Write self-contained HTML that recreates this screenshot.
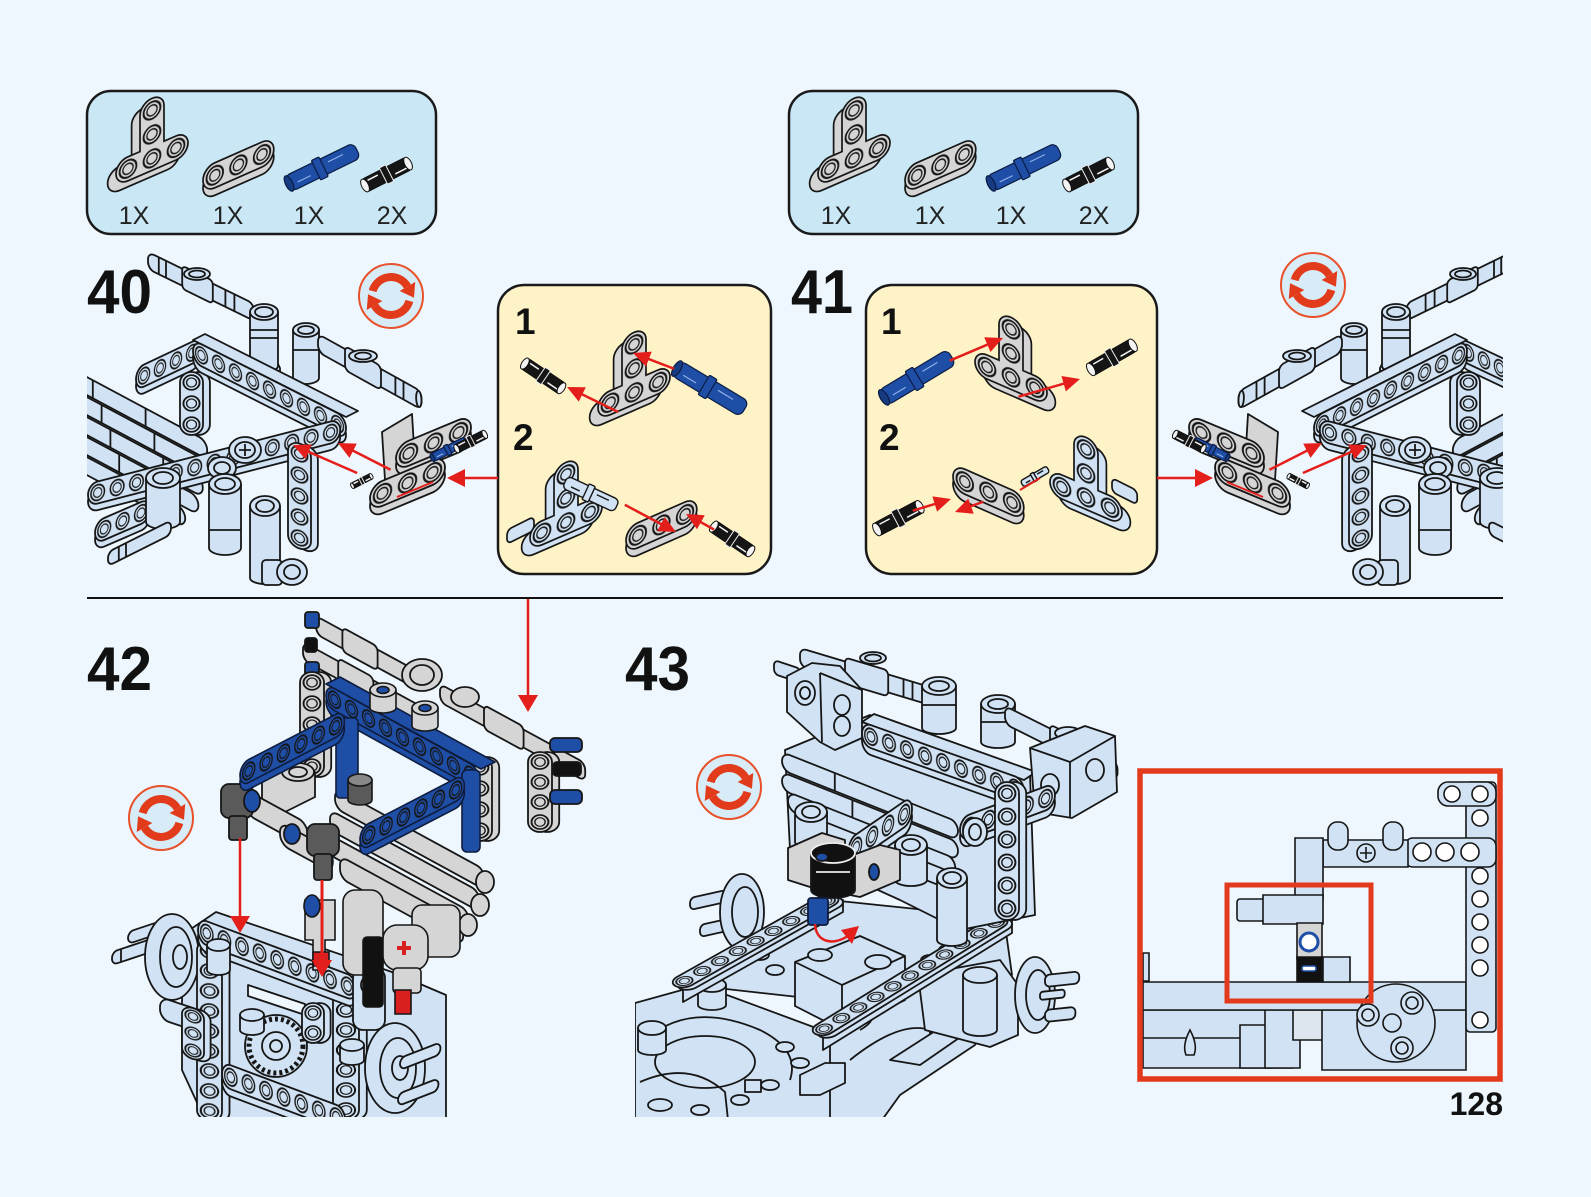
<!DOCTYPE html>
<html><head><meta charset="utf-8"><title>Page 128</title>
<style>
html,body{margin:0;padding:0;background:#eef7fd}
svg{display:block}
svg *{vector-effect:non-scaling-stroke}
.n{font-family:"Liberation Sans",Arial,sans-serif;font-weight:bold;fill:#111}
.q{font-family:"Liberation Sans",Arial,sans-serif;fill:#222;font-size:25px}
</style></head><body>
<svg xmlns="http://www.w3.org/2000/svg" width="1591" height="1197" viewBox="0 0 1591 1197">
<defs>
 <pattern id="ph" width="20" height="20" patternUnits="userSpaceOnUse">
  <circle cx="10" cy="10" r="7" fill="none" stroke="#161616" stroke-width="1.6"/>
  <circle cx="10" cy="10" r="4.3" fill="none" stroke="#161616" stroke-width="1.1"/>
 </pattern>
 <clipPath id="cL"><rect x="87" y="240" width="405" height="356"/></clipPath>
 <clipPath id="cR"><rect x="1160" y="240" width="343" height="356"/></clipPath>
 <clipPath id="c42"><rect x="87" y="600" width="533" height="517"/></clipPath>
 <clipPath id="c43"><rect x="635" y="600" width="495" height="517"/></clipPath>

 <g id="B2"><rect y="6" width="40" height="20" rx="10"/><rect width="40" height="20" rx="10"/><rect width="40" height="20" rx="10" fill="url(#ph)" stroke="none"/></g>
 <g id="B3"><rect y="6" width="60" height="20" rx="10"/><rect width="60" height="20" rx="10"/><rect width="60" height="20" rx="10" fill="url(#ph)" stroke="none"/></g>
 <g id="B4"><rect y="6" width="80" height="20" rx="10"/><rect width="80" height="20" rx="10"/><rect width="80" height="20" rx="10" fill="url(#ph)" stroke="none"/></g>
 <g id="B5"><rect y="6" width="100" height="20" rx="10"/><rect width="100" height="20" rx="10"/><rect width="100" height="20" rx="10" fill="url(#ph)" stroke="none"/></g>
 <g id="B6"><rect y="6" width="120" height="20" rx="10"/><rect width="120" height="20" rx="10"/><rect width="120" height="20" rx="10" fill="url(#ph)" stroke="none"/></g>
 <g id="B7"><rect y="6" width="140" height="20" rx="10"/><rect width="140" height="20" rx="10"/><rect width="140" height="20" rx="10" fill="url(#ph)" stroke="none"/></g>
 <g id="B9"><rect y="6" width="180" height="20" rx="10"/><rect width="180" height="20" rx="10"/><rect width="180" height="20" rx="10" fill="url(#ph)" stroke="none"/></g>
 <g id="B11"><rect y="6" width="220" height="20" rx="10"/><rect width="220" height="20" rx="10"/><rect width="220" height="20" rx="10" fill="url(#ph)" stroke="none"/></g>
 <g id="B13"><rect y="6" width="260" height="20" rx="10"/><rect width="260" height="20" rx="10"/><rect width="260" height="20" rx="10" fill="url(#ph)" stroke="none"/></g>

 <g id="T" stroke="#161616" stroke-width="1.7">
  <path transform="translate(-7,5)" d="M20,10 A10,10 0 0 1 40,10 V40 H50 A10,10 0 0 1 50,60 H10 A10,10 0 0 1 10,40 H20 Z"/>
  <path d="M20,10 A10,10 0 0 1 40,10 V40 H50 A10,10 0 0 1 50,60 H10 A10,10 0 0 1 10,40 H20 Z"/>
  <path d="M20,10 A10,10 0 0 1 40,10 V40 H50 A10,10 0 0 1 50,60 H10 A10,10 0 0 1 10,40 H20 Z" fill="url(#ph)" stroke="none"/>
 </g>
 <g id="PK" stroke="#111" stroke-width="1">
  <rect x="0" y="-6" width="44" height="12" rx="3" fill="#151515"/>
  <rect x="19" y="-8" width="6" height="16" rx="1" fill="#151515" stroke="#eee"/>
  <path d="M5,-3 H15 M29,3 H40" stroke="#f4f4f4" stroke-width="1.5"/>
  <ellipse cx="1" cy="0" rx="3" ry="6" fill="#f4f4f4"/>
  <ellipse cx="43" cy="0" rx="3" ry="6" fill="#f4f4f4"/>
 </g>
 <g id="PB" stroke="#0b1c44" stroke-width="1.2">
  <rect x="0" y="-7" width="64" height="14" rx="5" fill="#1f4ea6"/>
  <rect x="26" y="-9" width="7" height="18" rx="1" fill="#1f4ea6"/>
  <path d="M38,-2 H52 M8,2 H20" stroke="#8fb0e8"/>
  <ellipse cx="1" cy="0" rx="3" ry="7" fill="#163b80"/>
 </g>
 <g id="PL" stroke="#161616" stroke-width="1.4">
  <rect x="0" y="-7" width="60" height="14" rx="5" fill="#d0e2f3"/>
  <rect x="24" y="-9" width="7" height="18" rx="1" fill="#d0e2f3"/>
  <path d="M36,-2 H50 M8,2 H18"/>
 </g>
 <g id="ROT">
  <circle r="32" fill="#d7ecf7" stroke="#e8512b" stroke-width="2"/>
  <path d="M-18.35,-4.92 A19,19 0 0 1 16.45,-9.5" fill="none" stroke="#e23b1c" stroke-width="8"/>
  <polygon points="24.25,-14 8.65,-5 22.95,1.76" fill="#e23b1c"/>
  <path d="M18.35,4.92 A19,19 0 0 1 -16.45,9.5" fill="none" stroke="#e23b1c" stroke-width="8"/>
  <polygon points="-24.25,14 -8.65,5 -22.95,-1.76" fill="#e23b1c"/>
 </g>

 <!-- STEP 40 ASSEMBLY (reused mirrored for step 41) -->
 <g id="a40" fill="#d0e2f3" stroke="#161616" stroke-width="1.8" stroke-linejoin="round">
  <g transform="matrix(.88,.47,0,1,40,352)"><rect width="190" height="18" rx="9"/><line x1="60" y1="0" x2="60" y2="18"/><line x1="120" y1="0" x2="120" y2="18"/></g>
  <g transform="matrix(.88,.47,0,1,40,372)"><rect width="190" height="18" rx="9"/><line x1="70" y1="0" x2="70" y2="18"/><line x1="130" y1="0" x2="130" y2="18"/></g>
  <g transform="matrix(.88,.47,0,1,40,392)"><rect width="185" height="18" rx="9"/><line x1="80" y1="0" x2="80" y2="18"/><line x1="140" y1="0" x2="140" y2="18"/></g>
  <g transform="matrix(.88,.47,0,1,40,412)"><rect width="180" height="18" rx="9"/><line x1="90" y1="0" x2="90" y2="18"/></g>
  <g transform="matrix(.88,.47,0,1,40,432)"><rect width="165" height="18" rx="9"/><line x1="100" y1="0" x2="100" y2="18"/></g>
  <use href="#B4" transform="matrix(-.8,.38,0,1.1,200,338)"/>
  <use href="#B3" transform="matrix(0,1.05,1.15,0,180,372)"/>
  <g transform="matrix(.9,.44,0,1,148,252)"><rect width="118" height="17" rx="7"/><rect x="38" y="-3" width="34" height="23" rx="4"/><line x1="12" y1="0" x2="12" y2="17"/><line x1="20" y1="0" x2="20" y2="17"/><line x1="86" y1="0" x2="86" y2="17"/><line x1="96" y1="0" x2="96" y2="17"/></g>
  <ellipse cx="197" cy="274" rx="13" ry="6"/><ellipse cx="197" cy="274" rx="8" ry="3.5"/>
  <path d="M248,368 l4,-8 h24 l4,8 v14 h-32 z"/>
  <path d="M250,312 V366 A14,6 0 0 0 278,366 V312 Z"/>
  <line x1="250" y1="330" x2="278" y2="330"/><line x1="250" y1="338" x2="278" y2="338"/>
  <ellipse cx="264" cy="312" rx="14" ry="8"/><ellipse cx="264" cy="312" rx="9" ry="5"/>
  <path d="M293,330 V378 A13,6 0 0 0 319,378 V330 Z"/>
  <line x1="293" y1="350" x2="319" y2="350"/>
  <ellipse cx="306" cy="330" rx="13" ry="7"/><ellipse cx="306" cy="330" rx="8" ry="4"/>
  <g transform="matrix(.9,.5,0,1,318,334)"><rect width="115" height="18" rx="7"/><rect x="30" y="-3" width="40" height="24" rx="5"/><line x1="86" y1="0" x2="86" y2="18"/><line x1="95" y1="0" x2="95" y2="18"/><ellipse cx="112" cy="9" rx="3" ry="8"/></g>
  <ellipse cx="363" cy="356" rx="14" ry="6"/><ellipse cx="363" cy="356" rx="8" ry="3.5"/>
  <polygon points="193,340 346,417 358,411 205,334"/>
  <use href="#B9" transform="matrix(.85,.43,0,1.1,193,340)"/>
  <use href="#B13" transform="matrix(.97,-.25,0,1.1,88,484)"/>
  <ellipse cx="245" cy="450" rx="16" ry="13"/><ellipse cx="245" cy="450" rx="10" ry="8"/><path d="M239,450 h12 M245,444 v12"/>
  <ellipse cx="222" cy="468" rx="14" ry="11"/><ellipse cx="222" cy="468" rx="8" ry="6"/>
  <use href="#B3" transform="matrix(.92,-.4,0,1.1,95,522)"/>
  <path d="M146,478 V522 A17,7 0 0 0 180,522 V478 Z"/><ellipse cx="163" cy="478" rx="17" ry="10"/><ellipse cx="163" cy="478" rx="10" ry="6"/>
  <path d="M209,484 V548 A16,7 0 0 0 241,548 V484 Z"/><line x1="209" y1="530" x2="241" y2="530"/><ellipse cx="225" cy="484" rx="16" ry="10"/><ellipse cx="225" cy="484" rx="10" ry="6"/>
  <path d="M250,506 V578 A15,6 0 0 0 280,578 V506 Z"/><ellipse cx="265" cy="506" rx="15" ry="10"/><ellipse cx="265" cy="506" rx="9" ry="6"/>
  <g transform="matrix(.9,-.45,0,1,108,552)"><rect width="70" height="14" rx="6"/><line x1="12" y1="0" x2="12" y2="14"/><line x1="20" y1="0" x2="20" y2="14"/></g>
  <rect x="262" y="560" width="20" height="25" rx="4"/>
  <ellipse cx="292" cy="572" rx="15" ry="13"/><ellipse cx="292" cy="572" rx="8" ry="7"/>
  <use href="#B5" transform="matrix(0,1.05,1.15,.35,288,440)"/>
  <g fill="#d5d5d5">
   <polygon points="382,432 412,414 416,480 386,496"/>
   <use href="#B3" transform="matrix(1.25,-.52,0,1.25,396,446)"/>
   <use href="#B3" transform="matrix(1.25,-.52,0,1.25,370,486)"/>
  </g>
  <use href="#PB" transform="translate(432,458) rotate(-27) scale(.6)"/>
  <use href="#PK" transform="translate(456,449) rotate(-27) scale(.75)"/>
  <use href="#PK" transform="translate(352,486) rotate(-27) scale(.5)"/>
  <g fill="#e41f1b" stroke="#e41f1b">
   <g transform="translate(293,445) rotate(203.6)"><line x1="-70" y1="0" x2="-14" y2="0" stroke-width="2.5"/><polygon points="0,0 -17,-8 -17,8" stroke="none"/></g>
   <g transform="translate(338,443) rotate(207)"><line x1="-59" y1="0" x2="-14" y2="0" stroke-width="2.5"/><polygon points="0,0 -17,-8 -17,8" stroke="none"/></g>
   <line x1="397" y1="497" x2="433" y2="482" stroke-width="2"/>
  </g>
 </g>
</defs>

<rect x="0" y="0" width="1591" height="1197" fill="#eef7fd"/>

<!-- parts boxes -->
<rect x="87" y="91" width="349" height="143" rx="24" fill="#c9e7f4" stroke="#1a1a1a" stroke-width="2.5"/>
<rect x="789" y="91" width="349" height="143" rx="24" fill="#c9e7f4" stroke="#1a1a1a" stroke-width="2.5"/>
<g id="parts1">
 <use href="#T" fill="#d5d5d5" transform="matrix(1.2,-.52,0,1.2,116,114)"/>
 <use href="#B3" fill="#d5d5d5" stroke="#161616" stroke-width="1.7" transform="matrix(1.18,-.52,0,1.25,203,168)"/>
 <use href="#PB" transform="translate(288,184) rotate(-26) scale(1.2)"/>
 <use href="#PK" transform="translate(364,186) rotate(-27) scale(1.15)"/>
</g>
<use href="#parts1" transform="translate(702,0)"/>
<text class="q" x="134" y="224" text-anchor="middle">1X</text>
<text class="q" x="228" y="224" text-anchor="middle">1X</text>
<text class="q" x="309" y="224" text-anchor="middle">1X</text>
<text class="q" x="392" y="224" text-anchor="middle">2X</text>
<text class="q" x="836" y="224" text-anchor="middle">1X</text>
<text class="q" x="930" y="224" text-anchor="middle">1X</text>
<text class="q" x="1011" y="224" text-anchor="middle">1X</text>
<text class="q" x="1094" y="224" text-anchor="middle">2X</text>

<!-- step 40 / 41 assemblies -->
<g clip-path="url(#cL)"><use href="#a40"/></g>
<g clip-path="url(#cR)"><use href="#a40" transform="matrix(-1,0,0,1,1660,0)"/></g>

<!-- yellow callouts -->
<rect x="498" y="285" width="273" height="289" rx="26" fill="#fef3c7" stroke="#1a1a1a" stroke-width="2.5"/>
<rect x="866" y="285" width="291" height="289" rx="26" fill="#fef3c7" stroke="#1a1a1a" stroke-width="2.5"/>

<!-- box 1 contents -->
<g stroke="#161616" stroke-width="1.7">
 <use href="#PK" transform="translate(524,363) rotate(34) scale(1.05)"/>
 <use href="#T" fill="#d5d5d5" transform="matrix(1.2,-.52,0,1.2,598,348)"/>
 <use href="#PB" transform="translate(676,368) rotate(31) scale(1.25)"/>
 <g transform="matrix(.9,-.45,0,1,507,530)"><rect width="30" height="14" rx="5" fill="#d0e2f3"/></g>
 <use href="#T" fill="#d0e2f3" transform="matrix(1.2,-.52,0,1.2,530,478)"/>
 <use href="#PL" transform="translate(565,482) rotate(25) scale(.95)"/>
 <use href="#B3" fill="#d5d5d5" transform="matrix(1.18,-.52,0,1.25,626,528)"/>
 <use href="#PK" transform="translate(713,526) rotate(34) scale(1.05)"/>
</g>
<!-- box 2 contents -->
<g stroke="#161616" stroke-width="1.7">
 <use href="#PB" transform="translate(883,398) rotate(-31) scale(1.25)"/>
 <use href="#T" fill="#d5d5d5" transform="matrix(-1.2,-.52,0,1.2,1047,333)"/>
 <use href="#PK" transform="translate(1090,370) rotate(-30) scale(1.15)"/>
 <use href="#PK" transform="translate(876,530) rotate(-28) scale(1.15)"/>
 <use href="#B3" fill="#d5d5d5" transform="matrix(1.18,.52,0,1.25,953,464)"/>
 <g transform="matrix(.9,.45,0,1,1112,478)"><rect width="28" height="14" rx="5" fill="#d0e2f3"/></g>
 <use href="#T" fill="#d0e2f3" transform="matrix(-1.2,-.52,0,1.2,1122,453)"/>
 <use href="#PL" transform="translate(1022,484) rotate(-30) scale(.5)"/>
</g>
<g fill="#e41f1b" stroke="#e41f1b">
 <g transform="translate(633,353) rotate(201)"><line x1="-44" y1="0" x2="-12" y2="0" stroke-width="2.5"/><polygon points="0,0 -17,-8 -17,8" stroke="none"/></g>
 <g transform="translate(567,387) rotate(206)"><line x1="-57" y1="0" x2="-12" y2="0" stroke-width="2.5"/><polygon points="0,0 -17,-8 -17,8" stroke="none"/></g>
 <g transform="translate(686,514) rotate(209)"><line x1="-32" y1="0" x2="-12" y2="0" stroke-width="2.5"/><polygon points="0,0 -17,-8 -17,8" stroke="none"/></g>
 <g transform="translate(676,532) rotate(28)"><line x1="-58" y1="0" x2="-12" y2="0" stroke-width="2.5"/><polygon points="0,0 -17,-8 -17,8" stroke="none"/></g>
 <g transform="translate(1003,338) rotate(-23)"><line x1="-58" y1="0" x2="-12" y2="0" stroke-width="2.5"/><polygon points="0,0 -17,-8 -17,8" stroke="none"/></g>
 <g transform="translate(1080,379) rotate(-16)"><line x1="-64" y1="0" x2="-12" y2="0" stroke-width="2.5"/><polygon points="0,0 -17,-8 -17,8" stroke="none"/></g>
 <g transform="translate(951,499) rotate(-17)"><line x1="-40" y1="0" x2="-12" y2="0" stroke-width="2.5"/><polygon points="0,0 -17,-8 -17,8" stroke="none"/></g>
 <g transform="translate(955,512) rotate(160)"><line x1="-30" y1="0" x2="-12" y2="0" stroke-width="2.5"/><polygon points="0,0 -17,-8 -17,8" stroke="none"/></g>
 <line x1="1040" y1="478" x2="1020" y2="490" stroke-width="2"/>
 <g transform="translate(447,478) rotate(180)"><line x1="-51" y1="0" x2="-14" y2="0" stroke-width="2.5"/><polygon points="0,0 -18,-9 -18,9" stroke="none"/></g>
 <g transform="translate(1213,478)"><line x1="-56" y1="0" x2="-14" y2="0" stroke-width="2.5"/><polygon points="0,0 -18,-9 -18,9" stroke="none"/></g>
</g>

<!-- step numbers -->
<text class="n" x="87" y="313" font-size="62" textLength="65" lengthAdjust="spacingAndGlyphs">40</text>
<text class="n" x="791" y="313" font-size="62" textLength="62" lengthAdjust="spacingAndGlyphs">41</text>
<text class="n" x="87" y="690" font-size="62" textLength="65" lengthAdjust="spacingAndGlyphs">42</text>
<text class="n" x="625" y="690" font-size="62" textLength="65" lengthAdjust="spacingAndGlyphs">43</text>
<text class="n" x="515" y="334" font-size="37">1</text>
<text class="n" x="513" y="450" font-size="37">2</text>
<text class="n" x="881" y="334" font-size="37">1</text>
<text class="n" x="879" y="450" font-size="37">2</text>

<use href="#ROT" transform="translate(391,296)"/>
<use href="#ROT" transform="translate(1313,285)"/>
<use href="#ROT" transform="translate(161,818)"/>
<use href="#ROT" transform="translate(729,787)"/>

<!-- divider -->
<line x1="87" y1="598" x2="1503" y2="598" stroke="#111" stroke-width="2"/>

<!-- STEP 42 -->
<g clip-path="url(#c42)">
 <g fill="#d0e2f3" stroke="#161616" stroke-width="1.8" stroke-linejoin="round">
  <g transform="matrix(.9,-.3,0,1,112,952)"><rect width="50" height="13" rx="6"/><line x1="10" y1="0" x2="10" y2="13"/></g>
  <g transform="matrix(.9,-.3,0,1,128,932)"><rect width="40" height="12" rx="6"/></g>
  <polygon points="182,935 216,912 392,972 446,995 446,1120 205,1120 182,1070"/>
  <ellipse cx="172" cy="957" rx="27" ry="43"/>
  <ellipse cx="176" cy="957" rx="16" ry="30"/>
  <ellipse cx="180" cy="957" rx="7" ry="12"/>
  <use href="#B9" transform="matrix(0,1,1.25,.1,197,940)"/>
  <use href="#B7" transform="matrix(0,1,1.3,0,333,980)"/>
  <use href="#B9" transform="matrix(.88,.33,0,1.2,198,918)"/>
  <path d="M207,945 V970 A11.5,5 0 0 0 230,970 V945Z"/><ellipse cx="218.5" cy="945" rx="11.5" ry="6"/>
  <polygon points="248,985 305,1004 305,1015 248,996" fill="#eef7fd"/>
  <circle cx="276" cy="1046" r="31"/>
  <circle cx="276" cy="1046" r="27" fill="none" stroke-width="5" stroke-dasharray="3 3"/>
  <circle cx="276" cy="1046" r="14"/>
  <circle cx="276" cy="1046" r="6"/>
  <g transform="matrix(.9,.3,0,1,160,997)"><rect width="45" height="22" rx="10"/></g>
  <use href="#B3" transform="matrix(0,.85,1.1,.3,182,1005)"/>
  <use href="#B2" transform="matrix(0,1,1.1,0,302,1003)"/>
  <use href="#B7" transform="matrix(.88,.33,0,1.2,222,1062)"/>
  <rect x="353" y="968" width="32" height="62" rx="10"/>
  <ellipse cx="369" cy="985" rx="8" ry="9"/>
  <path d="M240,1015 V1030 A12,5 0 0 0 264,1030 V1015Z"/><ellipse cx="252" cy="1015" rx="12" ry="6"/>
  <path d="M340,1045 V1060 A12,5 0 0 0 364,1060 V1045Z"/><ellipse cx="352" cy="1045" rx="12" ry="6"/>
  <ellipse cx="395" cy="1068" rx="30" ry="45"/>
  <ellipse cx="398" cy="1068" rx="18" ry="30"/>
  <ellipse cx="400" cy="1068" rx="8" ry="12"/>
  <g transform="matrix(.9,-.35,0,1,400,1058)"><rect width="45" height="12" rx="6"/></g>
  <g transform="matrix(.9,-.35,0,1,398,1094)"><rect width="45" height="12" rx="6"/></g>
 </g>
 <!-- upper gray assembly -->
 <g fill="#d5d5d5" stroke="#161616" stroke-width="1.8" stroke-linejoin="round">
  <g transform="matrix(.88,.48,0,1,316,616)"><rect width="115" height="18" rx="7"/><rect x="30" y="-3" width="40" height="24" rx="5"/></g>
  <g transform="matrix(.88,.48,0,1,303,642)"><rect width="150" height="18" rx="7"/><rect x="40" y="-3" width="40" height="24" rx="5"/></g>
  <rect x="305" y="612" width="14" height="16" rx="3" fill="#1f4ea6"/>
  <rect x="305" y="662" width="14" height="14" rx="3" fill="#1f4ea6"/>
  <rect x="305" y="638" width="12" height="14" rx="3" fill="#111"/>
  <use href="#B5" transform="matrix(0,1.05,1.2,0,300,672)"/>
  <ellipse cx="422" cy="675" rx="20" ry="16"/><ellipse cx="422" cy="675" rx="12" ry="10"/>
  <g transform="matrix(.88,.48,0,1,440,684)"><rect width="165" height="18" rx="7"/><rect x="50" y="-3" width="45" height="24" rx="5"/><line x1="130" y1="0" x2="130" y2="18"/></g>
  <ellipse cx="465" cy="697" rx="14" ry="10"/>
  <use href="#B4" transform="matrix(0,1.05,1.2,0,468,757)"/>
  <use href="#B4" transform="matrix(0,1,1.2,0,528,752)"/>
  <rect x="550" y="738" width="32" height="14" rx="5" fill="#1f4ea6"/>
  <rect x="553" y="762" width="28" height="14" rx="4" fill="#111"/>
  <rect x="550" y="790" width="32" height="14" rx="5" fill="#1f4ea6"/>
  <g transform="matrix(.88,.48,0,1,335,788)"><rect width="170" height="20" rx="9"/></g>
  <g transform="matrix(.88,.48,0,1,330,810)"><rect width="170" height="20" rx="9"/></g>
  <g transform="matrix(.88,.48,0,1,328,834)"><rect width="160" height="20" rx="9"/></g>
  <g transform="matrix(.88,.48,0,1,340,856)"><rect width="140" height="22" rx="9"/></g>
  <ellipse cx="485" cy="882" rx="9" ry="11"/><ellipse cx="480" cy="905" rx="9" ry="11"/><ellipse cx="468" cy="925" rx="9" ry="11"/>
  <path d="M262,770 l35,-10 l18,12 v25 l-30,15 l-23,-12z"/>
  <ellipse cx="298" cy="772" rx="16" ry="9"/><ellipse cx="298" cy="772" rx="9" ry="5"/>
  <g transform="matrix(.88,.48,0,1,246,790)"><rect width="70" height="24" rx="10"/></g>
  <g transform="matrix(.88,.48,0,1,280,822)"><rect width="60" height="22" rx="10"/></g>
  <ellipse cx="292" cy="834" rx="8" ry="10" fill="#1f4ea6"/>
  <g fill="#5a5a5a">
   <rect x="221" y="784" width="32" height="34" rx="8"/><rect x="229" y="816" width="18" height="24" rx="3"/>
   <rect x="307" y="824" width="32" height="32" rx="8"/><rect x="314" y="854" width="18" height="26" rx="3"/>
  </g>
  <ellipse cx="252" cy="801" rx="8" ry="11" fill="#1f4ea6"/>
 </g>
 <!-- blue frame -->
 <g fill="#1f4ea6" stroke="#0e1c3d" stroke-width="1.6" stroke-linejoin="round">
  <polygon points="326,684 481,769 495,762 340,677"/>
  <use href="#B9" transform="matrix(.85,.47,0,1.1,326,684)"/>
  <rect x="336" y="718" width="22" height="80" rx="4"/>
  <use href="#B6" transform="matrix(.87,-.45,0,1.15,240,764)"/>
  <rect x="462" y="770" width="18" height="82" rx="5"/>
  <use href="#B6" transform="matrix(.87,-.45,0,1.15,360,828)"/>
 </g>
 <g fill="#d5d5d5" stroke="#161616" stroke-width="1.6">
  <path d="M370,690 V708 A13,5 0 0 0 396,708 V690Z"/><ellipse cx="383" cy="690" rx="13" ry="7"/><ellipse cx="383" cy="690" rx="6" ry="3.5" fill="#1f4ea6"/>
  <path d="M412,708 V726 A13,5 0 0 0 438,726 V708Z"/><ellipse cx="425" cy="708" rx="13" ry="7"/><ellipse cx="425" cy="708" rx="6" ry="3.5" fill="#1f4ea6"/>
  <path d="M348,780 V800 A12,5 0 0 0 372,800 V780Z" fill="#5a5a5a"/><ellipse cx="360" cy="780" rx="12" ry="6" fill="#888"/>
 </g>
 <!-- lower gray parts -->
 <g fill="#d5d5d5" stroke="#161616" stroke-width="1.6">
  <rect x="343" y="890" width="40" height="85" rx="12"/>
  <path d="M305,900 h30 v40 h-10 v30 h-12 v-30 h-8 z"/>
  <ellipse cx="312" cy="906" rx="8" ry="11" fill="#1f4ea6"/>
  <rect x="412" y="905" width="48" height="52" rx="10"/>
  <rect x="363" y="937" width="20" height="70" rx="4" fill="#111"/>
  <rect x="383" y="925" width="45" height="45" rx="14"/>
  <path d="M397,948 h14 M404,941 v14" stroke="#d82020" stroke-width="4"/>
  <rect x="393" y="968" width="28" height="25" rx="4"/>
  <rect x="395" y="990" width="16" height="24" fill="#d82020"/>
  <rect x="313" y="952" width="16" height="14" fill="#d82020"/>
 </g>
</g>
<!-- step 42 arrows -->
<g fill="#e41f1b" stroke="#e41f1b">
 <g transform="translate(528,712) rotate(90)"><line x1="-113" y1="0" x2="-14" y2="0" stroke-width="2.5"/><polygon points="0,0 -17,-10 -17,10" stroke="none"/></g>
 <g transform="translate(240,933) rotate(90)"><line x1="-95" y1="0" x2="-14" y2="0" stroke-width="2.5"/><polygon points="0,0 -17,-10 -17,10" stroke="none"/></g>
 <g transform="translate(322,977) rotate(90)"><line x1="-97" y1="0" x2="-14" y2="0" stroke-width="3"/><polygon points="0,0 -17,-10 -17,10" stroke="none"/></g>
</g>

<!-- STEP 43 -->
<g clip-path="url(#c43)">
 <g fill="#d0e2f3" stroke="#161616" stroke-width="1.8" stroke-linejoin="round">
  <polygon points="635,1003 700,985 835,1035 882,1050 882,1120 635,1120"/>
  <polygon points="830,1040 1005,925 1012,975 975,1045 900,1095 882,1120 830,1120"/>
  <polygon points="690,985 830,900 1003,918 870,1005"/>
  <path d="M645,1040 Q690,1000 760,1030 Q800,1050 790,1080" fill="none"/>
  <path d="M640,1082 Q690,1060 725,1092 L728,1120" fill="none"/>
  <ellipse cx="705" cy="1062" rx="50" ry="26" fill="none"/>
  <path d="M850,1060 Q900,1020 930,1030 L930,1050" fill="none"/>
  <path d="M890,1060 L960,1015 L985,1020 L920,1065 Z"/>
  <ellipse cx="785" cy="1047" rx="9" ry="5"/><ellipse cx="800" cy="1063" rx="9" ry="5"/><ellipse cx="770" cy="1085" rx="9" ry="5"/><ellipse cx="740" cy="1100" rx="9" ry="5"/>
  <ellipse cx="660" cy="1105" rx="12" ry="6"/><ellipse cx="700" cy="1110" rx="9" ry="5"/>
  <rect x="745" y="1080" width="16" height="12"/>
  <path d="M698,985 V1005 A14,5 0 0 0 726,1005 V985Z"/><ellipse cx="712" cy="985" rx="14" ry="7"/>
  <path d="M638,1028 V1050 A14,5 0 0 0 666,1050 V1028Z"/><ellipse cx="652" cy="1028" rx="14" ry="7"/>
  <path d="M800,1075 l25,-12 h20 v20 l-25,12 h-20z"/>
  <path d="M822,1030 Q850,1000 870,1010 Q878,1020 860,1030" fill="none"/>
  <!-- raised center block -->
  <polygon points="795,962 860,936 905,956 905,1000 842,1030 795,1006"/>
  <path d="M795,962 L842,985 L905,956 M842,985 V1030"/>
  <ellipse cx="878" cy="962" rx="13" ry="7"/><ellipse cx="820" cy="955" rx="12" ry="6"/>
  <ellipse cx="930" cy="960" rx="9" ry="5"/><ellipse cx="948" cy="950" rx="9" ry="5"/><ellipse cx="966" cy="940" rx="9" ry="5"/>
  <ellipse cx="760" cy="955" rx="9" ry="5"/><ellipse cx="775" cy="970" rx="9" ry="5"/>
  <g transform="matrix(.9,-.2,0,1,690,898)"><rect width="40" height="12" rx="5"/></g>
  <g transform="matrix(.9,-.2,0,1,700,925)"><rect width="35" height="12" rx="5"/></g>
  <ellipse cx="742" cy="912" rx="22" ry="38"/><ellipse cx="745" cy="912" rx="13" ry="25"/>
  <polygon points="918,975 1000,960 1018,985 1018,1035 990,1047 925,1030"/>
  <path d="M963,975 V1030 A17,6 0 0 0 997,1030 V975Z"/><ellipse cx="980" cy="975" rx="17" ry="8"/>
  <ellipse cx="1035" cy="995" rx="20" ry="38"/><ellipse cx="1038" cy="995" rx="12" ry="25"/>
  <g transform="matrix(.95,-.1,0,1,1045,975)"><rect width="36" height="12" rx="5"/></g>
  <g transform="matrix(.95,-.1,0,1,1045,1010)"><rect width="32" height="12" rx="5"/></g>
  <g transform="matrix(.95,-.1,0,1,1040,992)"><rect width="26" height="8" rx="3"/></g>
  <polygon points="683,990 843,900 843,912 683,1002"/>
  <use href="#B9" transform="matrix(.89,-.5,.75,.4,668,982)"/>
  <polygon points="823,1038 1012,921 1012,933 823,1050"/>
  <use href="#B11" transform="matrix(.86,-.53,.75,.4,808,1030)"/>
  <!-- upper structure -->
  <polygon points="785,750 870,715 1030,775 1035,915 960,930 900,900 790,850"/>
  <g transform="matrix(.9,.27,0,1,800,648)"><rect width="150" height="18" rx="7"/><rect x="50" y="-4" width="48" height="26" rx="5"/><line x1="115" y1="0" x2="115" y2="18"/><line x1="125" y1="0" x2="125" y2="18"/></g>
  <ellipse cx="873" cy="658" rx="13" ry="6"/><ellipse cx="873" cy="658" rx="8" ry="3.5"/>
  <g transform="matrix(.9,.3,0,1,774,660)"><rect width="30" height="14" rx="5"/></g>
  <polygon points="787,676 812,663 840,666 862,690 862,738 835,750 820,742 787,712"/>
  <path d="M820,673 L822,742 M820,673 L862,690"/>
  <ellipse cx="805" cy="693" rx="10" ry="12"/><ellipse cx="805" cy="693" rx="5" ry="6"/>
  <ellipse cx="842" cy="705" rx="8" ry="10"/><ellipse cx="842" cy="726" rx="8" ry="10"/>
  <path d="M922,686 V728 A17,6 0 0 0 956,728 V686Z"/><line x1="922" y1="705" x2="956" y2="705"/><ellipse cx="939" cy="686" rx="17" ry="9"/><ellipse cx="939" cy="686" rx="10" ry="5"/>
  <path d="M981,704 V742 A17,6 0 0 0 1015,742 V704Z"/><line x1="981" y1="722" x2="1015" y2="722"/><ellipse cx="998" cy="704" rx="17" ry="9"/><ellipse cx="998" cy="704" rx="10" ry="5"/>
  <g transform="matrix(.9,.45,0,1,1005,706)"><rect width="125" height="18" rx="7"/><rect x="50" y="-4" width="40" height="26" rx="5"/><line x1="110" y1="0" x2="110" y2="18"/></g>
  <ellipse cx="1068" cy="733" rx="13" ry="6"/>
  <g transform="matrix(.88,.35,0,1,782,752)"><rect width="200" height="18" rx="9"/><line x1="60" y1="0" x2="60" y2="18"/></g>
  <g transform="matrix(.88,.35,0,1,782,772)"><rect width="200" height="18" rx="9"/><line x1="80" y1="0" x2="80" y2="18"/></g>
  <g transform="matrix(.88,.35,0,1,788,792)"><rect width="190" height="18" rx="9"/><line x1="100" y1="0" x2="100" y2="18"/></g>
  <g transform="matrix(.88,.35,0,1,800,812)"><rect width="170" height="18" rx="9"/></g>
  <polygon points="862,722 1024,780 1036,772 874,714"/>
  <use href="#B9" transform="matrix(.9,.32,0,1.15,862,722)"/>
  <polygon points="1030,748 1085,726 1115,736 1117,792 1072,818 1035,812"/>
  <path d="M1030,748 L1070,762 L1115,736 M1070,762 V818"/>
  <ellipse cx="1050" cy="785" rx="9" ry="11"/><ellipse cx="1095" cy="770" rx="9" ry="11"/>
  <use href="#B5" transform="matrix(.95,-.35,0,1.2,960,818)"/>
  <use href="#B6" transform="matrix(0,1.15,1.2,0,995,782)"/>
  <use href="#B4" transform="matrix(.8,-.55,0,1.3,848,840)"/>
  <path d="M795,812 V842 A16,6 0 0 0 827,842 V812Z"/><ellipse cx="811" cy="812" rx="16" ry="10"/><ellipse cx="811" cy="812" rx="9" ry="6"/>
  <path d="M895,845 V880 A16,6 0 0 0 927,880 V845Z"/><ellipse cx="911" cy="845" rx="16" ry="10"/><ellipse cx="911" cy="845" rx="9" ry="6"/>
  <path d="M937,878 V940 A15,6 0 0 0 967,940 V878Z"/><ellipse cx="952" cy="878" rx="15" ry="10"/><ellipse cx="952" cy="878" rx="9" ry="6"/>
  <ellipse cx="975" cy="832" rx="12" ry="14"/><ellipse cx="975" cy="832" rx="6" ry="8"/>
  <!-- gray/black piece -->
  <polygon points="788,848 822,833 845,840 845,872 810,887 788,880" fill="#d5d5d5"/>
  <polygon points="840,860 880,845 900,850 900,880 860,897 840,893" fill="#d5d5d5"/>
  <ellipse cx="874" cy="872" rx="5" ry="8" fill="#1f4ea6"/>
  <path d="M811,853 V890 A22,8 0 0 0 855,890 V853Z" fill="#111"/>
  <ellipse cx="833" cy="853" rx="22" ry="10" fill="#111" stroke="#eee"/>
  <ellipse cx="822" cy="857" rx="6" ry="4" fill="#1f4ea6"/>
  <path d="M816,872 h34" stroke="#eee"/>
  <rect x="808" y="898" width="20" height="27" rx="3" fill="#1f4ea6" stroke="#0e1c3d"/>
 </g>
</g>
<path d="M815,924 C816,942 832,946 848,936" fill="none" stroke="#e41f1b" stroke-width="2.5"/>
<polygon points="859,926 841,930 852,944" fill="#e41f1b"/>

<!-- detail box -->
<g fill="#d0e2f3" stroke="#161616" stroke-width="1.6">
 <rect x="1143" y="1010" width="150" height="58"/>
 <line x1="1143" y1="1038" x2="1240" y2="1038"/>
 <rect x="1240" y="1025" width="32" height="43"/>
 <path d="M1190,1030 q-8,15 -4,25 h8 q4,-10 -4,-25z"/>
 <rect x="1265" y="1010" width="35" height="58"/>
 <rect x="1293" y="1010" width="45" height="30" fill="#dde6ee"/>
 <rect x="1322" y="1010" width="144" height="60"/>
 <rect x="1143" y="982" width="323" height="28"/>
 <rect x="1143" y="953" width="6" height="28"/>
 <circle cx="1396" cy="1023" r="39"/>
 <circle cx="1368" cy="1015" r="11"/><circle cx="1368" cy="1015" r="6"/>
 <circle cx="1412" cy="1003" r="11"/><circle cx="1412" cy="1003" r="6"/>
 <circle cx="1402" cy="1048" r="11"/><circle cx="1402" cy="1048" r="6"/>
 <circle cx="1392" cy="1023" r="9"/>
 <rect x="1466" y="782" width="30" height="250" rx="4"/>
 <rect x="1438" y="782" width="58" height="24" rx="10"/>
 <rect x="1405" y="838" width="91" height="29" rx="8"/>
 <g fill="#fff">
  <circle cx="1452" cy="794" r="8"/><circle cx="1480" cy="794" r="8"/>
  <circle cx="1480" cy="818" r="8"/><circle cx="1480" cy="876" r="8"/><circle cx="1480" cy="899" r="8"/><circle cx="1480" cy="922" r="8"/><circle cx="1480" cy="945" r="8"/><circle cx="1480" cy="968" r="8"/><circle cx="1480" cy="1020" r="8"/>
  <circle cx="1422" cy="852" r="9"/><circle cx="1445" cy="852" r="9"/><circle cx="1470" cy="852" r="9"/>
 </g>
 <rect x="1323" y="840" width="85" height="27"/>
 <rect x="1328" y="822" width="20" height="28" rx="9"/>
 <rect x="1383" y="822" width="20" height="28" rx="9"/>
 <circle cx="1366" cy="853" r="9"/><path d="M1360,853 h12 M1366,847 v12"/>
 <rect x="1295" y="838" width="28" height="62"/>
 <rect x="1237" y="899" width="30" height="22" rx="3"/>
 <rect x="1263" y="895" width="60" height="29"/>
 <rect x="1297" y="923" width="25" height="36" fill="#d5d5d5"/>
 <circle cx="1309" cy="942" r="9" fill="#fff" stroke="#1f4ea6" stroke-width="3"/>
 <rect x="1297" y="957" width="25" height="25" fill="#111"/>
 <rect x="1302" y="966" width="14" height="5" rx="2" fill="#fff" stroke="#1f4ea6"/>
 <rect x="1323" y="957" width="27" height="25"/>
</g>
<rect x="1140" y="771" width="360" height="308" fill="none" stroke="#e33a1d" stroke-width="5.5"/>
<rect x="1227" y="885" width="144" height="116" fill="none" stroke="#e33a1d" stroke-width="5"/>

<text class="n" x="1503" y="1115" text-anchor="end" font-size="32">128</text>
</svg>
</body></html>
